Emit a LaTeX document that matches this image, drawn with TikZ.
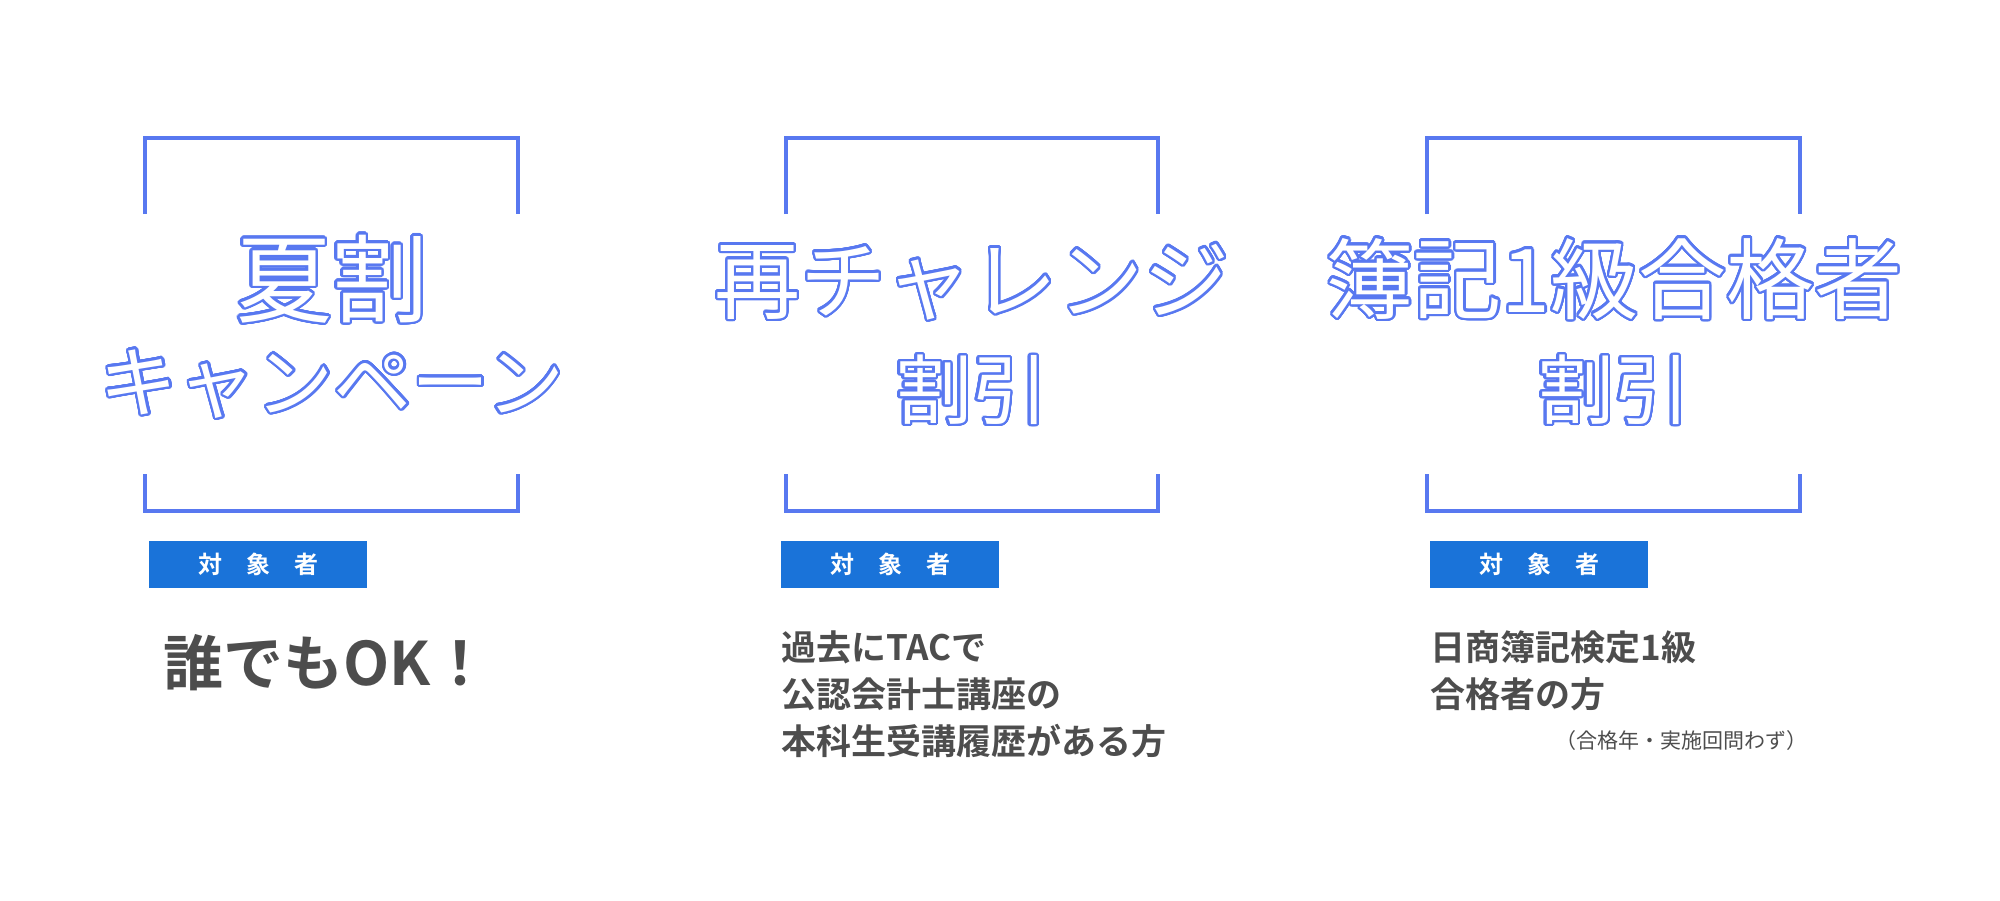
\documentclass[tikz,border=0pt]{standalone}
\usepackage{fontspec}
\usepackage{contour}
\setmainfont{Noto Sans CJK JP}[BoldFont={* Bold}]
\definecolor{brk}{RGB}{88,120,240}
\definecolor{lbl}{RGB}{26,115,217}
\definecolor{txt}{RGB}{77,77,77}
\contourlength{1.2pt}
\contournumber{32}
\newcommand{\outl}[1]{\contour{brk}{\textcolor{white}{#1}}}
\tikzset{
  bracket/.style={draw=brk, line width=1.6pt},
  title/.style={font=\fontsize{#1}{#1}\selectfont, inner sep=0pt},
  target/.style={fill=lbl, text=white, minimum width=109pt, minimum height=23.5pt, inner sep=0pt, font=\bfseries\fontsize{12}{12}\selectfont},
  body/.style={text=txt, font=\bfseries\fontsize{#1}{23.5}\selectfont, inner sep=0pt, align=left}
}
\begin{document}
\begin{tikzpicture}[x=0.5pt,y=-0.5pt]
\useasboundingbox (0,0) rectangle (2000,900);
% brackets
\foreach \l/\r in {145/518, 786/1158, 1427/1800} {
  \draw[bracket] (\l,214) -- (\l,138) -- (\r,138) -- (\r,214);
  \draw[bracket] (\l,474) -- (\l,511) -- (\r,511) -- (\r,474);
}
% titles
\node[title=48] (summer) at (332,280) {\outl{夏割}};
\node[title=39] (campaign) at (332,385) {\outl{キャンペーン}};
\node[title=43] (retry) at (972,283) {\outl{再チャレンジ}};
\node[title=38] (retrydisc) at (972,391) {\outl{割引}};
\node[title=44] (boki) at (1614,280) {\outl{簿記1級合格者}};
\node[title=38] (bokidisc) at (1614,391) {\outl{割引}};
% labels
\node[target] (tgta) at (258,564) {対\hspace{1em}象\hspace{1em}者};
\node[target] (tgtb) at (890,564) {対\hspace{1em}象\hspace{1em}者};
\node[target] (tgtc) at (1539,564) {対\hspace{1em}象\hspace{1em}者};
% conditions
\node[body=30, anchor=west] (anyone) at (163,663) {誰でもOK！};
\node[body=17.5, anchor=north west] (tac) at (781,630) {過去にTACで\\公認会計士講座の\\本科生受講履歴がある方};
\node[body=17.5, anchor=north west] (grade) at (1430,630) {日商簿記検定1級\\合格者の方};
\node[body=10.5, anchor=east, font=\fontsize{10.5}{11}\selectfont] (note) at (1808,741) {（合格年・実施回問わず）};
\end{tikzpicture}
\end{document}
